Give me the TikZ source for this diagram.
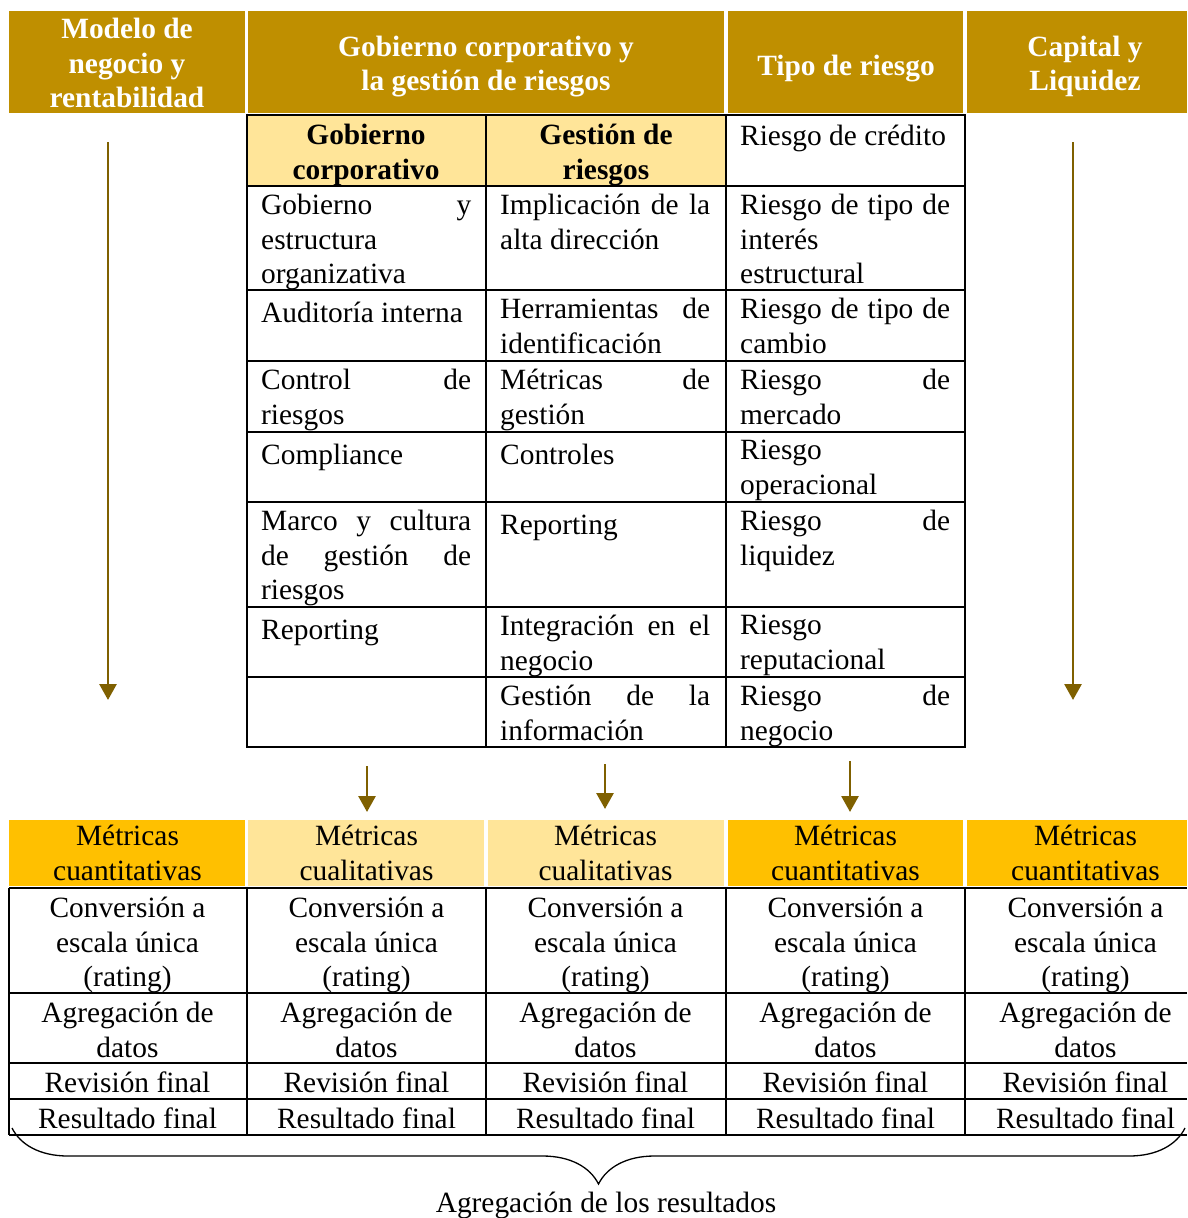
\documentclass[tikz,border=0pt]{standalone}
\usepackage{fontspec}
\setmainfont{Liberation Serif}
\usetikzlibrary{arrows.meta, decorations.pathreplacing}

\definecolor{gold}{HTML}{BF8F00}
\definecolor{paleyellow}{HTML}{FFE599}
\definecolor{amber}{HTML}{FFC000}
\definecolor{darkgold}{HTML}{7F6000}

\newcommand{\cellfont}{\fontsize{29.4}{34.5}\selectfont}
\newcommand{\jl}[1]{\makebox[210pt][s]{#1}}

\tikzset{
  tcell/.style={inner sep=0pt, anchor=north west, align=left, font=\cellfont, execute at begin node=\strut},
  ccell/.style={inner sep=0pt, anchor=north, align=center, font=\cellfont, execute at begin node=\strut},
  hcell/.style={ccell, font=\cellfont\bfseries, text=white},
  tabline/.style={line width=1.6pt, black},
  flowarrow/.style={darkgold, line width=2.8pt, -{Triangle[width=17pt,length=16pt]}}
}

\begin{document}
\begin{tikzpicture}[x=1pt,y=-1pt]
\useasboundingbox (0,0) rectangle (1187,1218);

% cabecera
\fill[gold] (9,11) rectangle (245,113);
\fill[gold] (248,11) rectangle (724,113);
\fill[gold] (728,11) rectangle (963,113);
\fill[gold] (967,11) rectangle (1187,113);
\node[hcell] (modelo) at (127,18) {Modelo de\\negocio y\\rentabilidad};
\node[hcell] (gobierno) at (486,35.5) {Gobierno corporativo y\\la gestión de riesgos};
\node[hcell] (tipo) at (846,51) {Tipo de riesgo};
\node[hcell] (capital) at (1085,35.5) {Capital y\\Liquidez};

% tabla central
\fill[paleyellow] (247,115) rectangle (726,186);
\draw[tabline] (247,115) rectangle (965,747);
\draw[tabline] (486,115) -- (486,747);
\draw[tabline] (726,115) -- (726,747);
\foreach \y in {186,290,361,432,502,607,677}
  \draw[tabline] (247,\y) -- (965,\y);

\node[ccell, font=\cellfont\bfseries] (gc) at (366,124) {Gobierno\\corporativo};
\node[ccell, font=\cellfont\bfseries] (gr) at (606,124) {Gestión de\\riesgos};
\node[tcell] (t0) at (740,121) {Riesgo de crédito};

\node[tcell] (a1) at (261,194) {\jl{Gobierno y}\\estructura\\organizativa};
\node[tcell] (b1) at (500,194) {\jl{Implicación de la}\\alta dirección};
\node[tcell] (t1) at (740,194) {\jl{Riesgo de tipo de}\\interés\\estructural};

\node[tcell] (a2) at (261,298) {Auditoría interna};
\node[tcell] (b2) at (500,298) {\jl{Herramientas de}\\identificación};
\node[tcell] (t2) at (740,298) {\jl{Riesgo de tipo de}\\cambio};

\node[tcell] (a3) at (261,369) {\jl{Control de}\\riesgos};
\node[tcell] (b3) at (500,369) {\jl{Métricas de}\\gestión};
\node[tcell] (t3) at (740,369) {\jl{Riesgo de}\\mercado};

\node[tcell] (a4) at (261,440) {Compliance};
\node[tcell] (b4) at (500,440) {Controles};
\node[tcell] (t4) at (740,440) {Riesgo\\operacional};

\node[tcell] (a5) at (261,510) {\jl{Marco y cultura}\\\jl{de gestión de}\\riesgos};
\node[tcell] (b5) at (500,510) {Reporting};
\node[tcell] (t5) at (740,510) {\jl{Riesgo de}\\liquidez};

\node[tcell] (a6) at (261,615) {Reporting};
\node[tcell] (b6) at (500,615) {\jl{Integración en el}\\negocio};
\node[tcell] (t6) at (740,615) {Riesgo\\reputacional};

\node[tcell] (b7) at (500,685) {\jl{Gestión de la}\\información};
\node[tcell] (t7) at (740,685) {\jl{Riesgo de}\\negocio};

% flechas
\coordinate (l0) at (108,142); \coordinate (l1) at (108,700);
\coordinate (r0) at (1073,142); \coordinate (r1) at (1073,700);
\coordinate (s10) at (367,766); \coordinate (s11) at (367,812);
\coordinate (s20) at (605,764); \coordinate (s21) at (605,809);
\coordinate (s30) at (850,761); \coordinate (s31) at (850,812);
\draw[flowarrow] (l0) -- (l1);
\draw[flowarrow] (r0) -- (r1);
\draw[flowarrow] (s10) -- (s11);
\draw[flowarrow] (s20) -- (s21);
\draw[flowarrow] (s30) -- (s31);

% tabla inferior
\fill[amber] (9,820) rectangle (245,886);
\fill[paleyellow] (248,820) rectangle (484,886);
\fill[paleyellow] (488,820) rectangle (724,886);
\fill[amber] (728,820) rectangle (963,886);
\fill[amber] (967,820) rectangle (1187,886);
\foreach \y in {888,993,1063,1099,1135}
  \draw[tabline] (9,\y) -- (1187,\y);
\foreach \x in {9,247,486,726,965}
  \draw[tabline] (\x,888) -- (\x,1135);

\foreach \cx/\kind/\n in {127.5/cuantitativas/1, 366.5/cualitativas/2, 605.5/cualitativas/3, 845.5/cuantitativas/4, 1085.5/cuantitativas/5} {
  \node[ccell] (met\n) at (\cx,825) {Métricas\\\kind};
  \node[ccell] (conv\n) at (\cx,897) {Conversión a\\escala única\\(rating)};
  \node[ccell] (agr\n) at (\cx,1002) {Agregación de\\datos};
  \node[ccell] (rev\n) at (\cx,1068.5) {Revisión final};
  \node[ccell] (res\n) at (\cx,1104.5) {Resultado final};
}

% llave
\coordinate (b0) at (12,1128); \coordinate (b1) at (1185,1128);
\draw[line width=1.3pt, decorate, decoration={brace, mirror, amplitude=56pt}] (b0) -- (b1);
\node[font=\cellfont, anchor=base, inner sep=0pt] (agg) at (606,1212) {Agregación de los resultados};
\end{tikzpicture}
\end{document}
